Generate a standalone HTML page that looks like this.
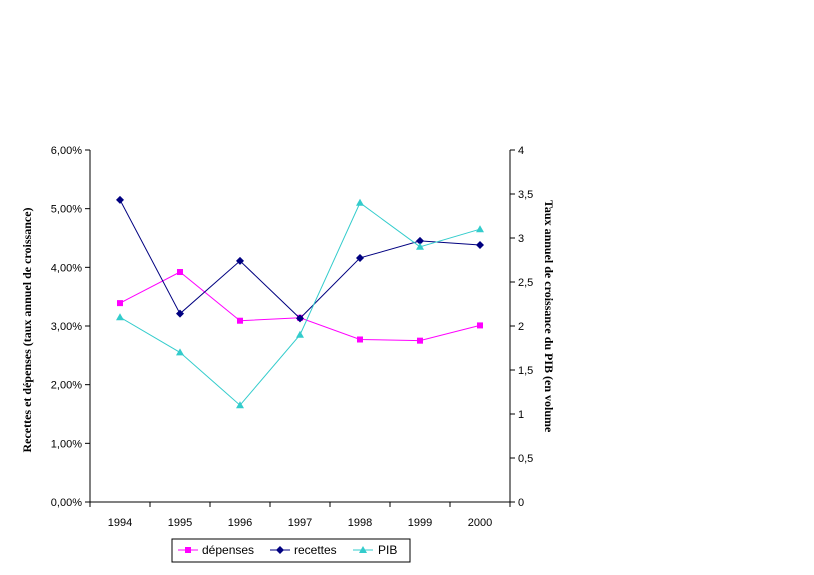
<!DOCTYPE html>
<html><head><meta charset="utf-8"><style>
body{margin:0;background:#fff;}
svg{display:block;font-family:"Liberation Sans",Arial,sans-serif;}
</style></head><body>
<svg id="chart" width="814" height="575">
<g id="axes"></g><g id="series"></g>
<text transform="translate(31,330) rotate(-90)" text-anchor="middle" font-family="Liberation Serif,serif" font-weight="bold" font-size="12">Recettes et dépenses (taux annuel de croissance)</text>
<text transform="translate(545,200) rotate(90)" text-anchor="start" font-family="Liberation Serif,serif" font-weight="bold" font-size="12">Taux annuel de croissance du PIB (en volume</text>
<g>
<rect x="172" y="539" width="238" height="23" fill="#fff" stroke="#000"/>
<line x1="178" y1="550" x2="198" y2="550" stroke="#ff00ff"/><rect x="185" y="547" width="6" height="6" fill="#ff00ff"/>
<text x="202" y="554" font-size="12">dépenses</text>
<line x1="270" y1="550" x2="290" y2="550" stroke="#000080"/><path d="M280 546 L284 550 L280 554 L276 550Z" fill="#000080"/>
<text x="294" y="554" font-size="12">recettes</text>
<line x1="353" y1="550" x2="373" y2="550" stroke="#33cccc"/><path d="M363 546 L367 553 L359 553Z" fill="#33cccc"/>
<text x="378" y="554" font-size="12">PIB</text>
</g>
</svg>
<script>
const categories=["1994","1995","1996","1997","1998","1999","2000"];
const depenses=[3.39,3.92,3.09,3.14,2.77,2.75,3.01];
const recettes=[5.15,3.21,4.11,3.13,4.16,4.45,4.38];
const pib=[2.1,1.7,1.1,1.9,3.4,2.9,3.1];
const leftTicks=["0,00%","1,00%","2,00%","3,00%","4,00%","5,00%","6,00%"];
const rightTicks=["0","0,5","1","1,5","2","2,5","3","3,5","4"];
const L=90,R=510,T=150,B=502;
const NS="http://www.w3.org/2000/svg";
const xs=i=>L+(R-L)/categories.length*(i+0.5);
const yl=v=>B-(B-T)*v/6;
const yr=v=>B-(B-T)*v/4;
function mk(tag,attrs,parent){const e=document.createElementNS(NS,tag);for(const k in attrs)e.setAttribute(k,attrs[k]);parent.appendChild(e);return e;}
const ax=document.getElementById('axes'),se=document.getElementById('series');
let e;
e=mk('line',{x1:L,y1:T,x2:L,y2:B,stroke:'#000'},ax);


e=mk('line',{x1:R,y1:T,x2:R,y2:B,stroke:'#000'},ax);


e=mk('line',{x1:L,y1:B,x2:R,y2:B,stroke:'#000'},ax);


leftTicks.forEach((t,i)=>{const y=yl(i);mk('line',{x1:L-5,y1:y,x2:L,y2:y,stroke:'#000'},ax);
e=mk('text',{x:L-8,y:y+4,'text-anchor':'end','font-size':11},ax);e.textContent=t;

});
rightTicks.forEach((t,i)=>{const y=yr(i*0.5);mk('line',{x1:R,y1:y,x2:R+5,y2:y,stroke:'#000'},ax);
e=mk('text',{x:R+8,y:y+4,'font-size':11},ax);e.textContent=t;

});
for(let i=0;i<=categories.length;i++){const x=L+(R-L)/categories.length*i;mk('line',{x1:x,y1:B,x2:x,y2:B+5,stroke:'#000'},ax);}
categories.forEach((c,i)=>{e=mk('text',{x:xs(i),y:B+24,'text-anchor':'middle','font-size':11},ax);e.textContent=c;

});
function series(vals,yf,color,shape,name){
 e=mk('polyline',{points:vals.map((v,i)=>xs(i)+','+yf(v)).join(' '),fill:'none',stroke:color,'stroke-width':1},se);
 
 
 vals.forEach((v,i)=>{const x=xs(i),y=yf(v);let m;
  if(shape==='sq')m=mk('rect',{x:x-3,y:y-3,width:6,height:6,fill:color},se);
  else if(shape==='di')m=mk('path',{d:`M${x} ${y-4}L${x+4} ${y}L${x} ${y+4}L${x-4} ${y}Z`,fill:color},se);
  else m=mk('path',{d:`M${x} ${y-4}L${x+4} ${y+3}L${x-4} ${y+3}Z`,fill:color},se);
  
  });
}
series(depenses,yl,'#ff00ff','sq','depenses');
series(recettes,yl,'#000080','di','recettes');
series(pib,yr,'#33cccc','tr','pib');
</script>
</body></html>
